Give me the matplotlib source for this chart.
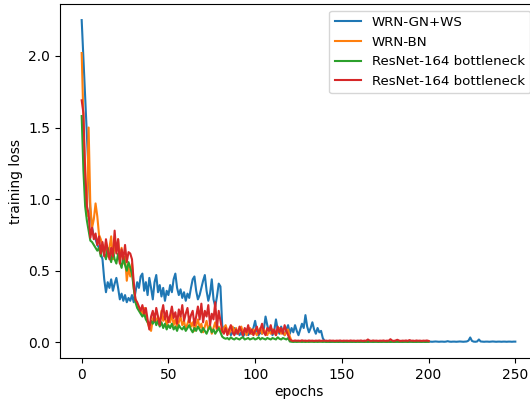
import matplotlib
matplotlib.use("Agg")
import matplotlib.pyplot as plt
import numpy as np

labels = ["WRN-GN+WS", "WRN-BN", "ResNet-164 bottleneck", "ResNet-164 bottleneck"]
colors = ["#1f77b4", "#ff7f0e", "#2ca02c", "#d62728"]

wrn_gn_ws = [
    2.25, 1.98, 1.72, 1.45, 1.18, 0.92, 0.80, 0.74, 0.72, 0.68,
    0.66, 0.62, 0.58, 0.44, 0.35, 0.42, 0.38, 0.44, 0.36, 0.41,
    0.45, 0.38, 0.30, 0.34, 0.29, 0.33, 0.28, 0.31, 0.29, 0.33,
    0.28, 0.35, 0.42, 0.38, 0.46, 0.48, 0.36, 0.42, 0.33, 0.45,
    0.38, 0.30, 0.42, 0.47, 0.35, 0.40, 0.32, 0.38, 0.29, 0.36,
    0.33, 0.40, 0.35, 0.44, 0.48, 0.38, 0.33, 0.37, 0.31, 0.35,
    0.29, 0.34, 0.31, 0.38, 0.44, 0.46, 0.36, 0.30, 0.33, 0.38,
    0.43, 0.47, 0.36, 0.29, 0.34, 0.44, 0.30, 0.25, 0.32, 0.41,
    0.39, 0.12, 0.08, 0.10, 0.06, 0.09, 0.05, 0.07, 0.10, 0.06,
    0.08, 0.05, 0.07, 0.04, 0.06, 0.09, 0.05, 0.07, 0.06, 0.10,
    0.15, 0.08, 0.05, 0.07, 0.06, 0.09, 0.18, 0.12, 0.07, 0.10,
    0.05, 0.08, 0.16, 0.09, 0.06, 0.11, 0.07, 0.05, 0.09, 0.12,
    0.06, 0.10, 0.07, 0.12, 0.08, 0.05, 0.09, 0.13, 0.10, 0.19,
    0.11, 0.07, 0.10, 0.14, 0.09, 0.06, 0.10, 0.07, 0.08, 0.03,
    0.01, 0.006, 0.005, 0.005, 0.004, 0.005, 0.006, 0.005, 0.004, 0.005,
    0.005, 0.004, 0.005, 0.006, 0.005, 0.004, 0.005, 0.005, 0.004, 0.005,
    0.006, 0.005, 0.004, 0.005, 0.005, 0.004, 0.006, 0.005, 0.004, 0.005,
    0.005, 0.004, 0.005, 0.005, 0.006, 0.004, 0.005, 0.005, 0.004, 0.005,
    0.005, 0.004, 0.005, 0.006, 0.005, 0.004, 0.005, 0.005, 0.004, 0.005,
    0.006, 0.005, 0.004, 0.005, 0.005, 0.004, 0.005, 0.006, 0.005, 0.004,
    0.005, 0.005, 0.004, 0.005, 0.006, 0.005, 0.004, 0.005, 0.005, 0.004,
    0.005, 0.008, 0.005, 0.004, 0.005, 0.005, 0.004, 0.005, 0.006, 0.005,
    0.004, 0.005, 0.006, 0.012, 0.034, 0.010, 0.005, 0.004, 0.006, 0.020,
    0.006, 0.005, 0.004, 0.005, 0.005, 0.004, 0.005, 0.006, 0.005, 0.004,
    0.005, 0.005, 0.004, 0.005, 0.005, 0.004, 0.005, 0.005, 0.004, 0.005,
    0.005,
]

wrn_bn = [
    2.02, 1.55, 1.10, 0.88, 1.50, 0.95, 0.80, 0.86, 0.97, 0.88,
    0.75, 0.72, 0.68, 0.62, 0.70, 0.60, 0.66, 0.74, 0.58, 0.68,
    0.63, 0.72, 0.58, 0.66, 0.55, 0.60, 0.43, 0.52, 0.46, 0.55,
    0.38, 0.30, 0.26, 0.24, 0.22, 0.20, 0.24, 0.18, 0.14, 0.10,
    0.08, 0.16, 0.20, 0.13, 0.18, 0.12, 0.22, 0.15, 0.19, 0.11,
    0.17, 0.14, 0.20, 0.12, 0.16, 0.10, 0.14, 0.18, 0.12, 0.15,
    0.09, 0.13, 0.17, 0.11, 0.14, 0.08, 0.12, 0.16, 0.10, 0.13,
    0.07, 0.11, 0.15, 0.09, 0.12, 0.06, 0.10, 0.14, 0.08, 0.11,
    0.09, 0.07, 0.10, 0.12, 0.08, 0.06, 0.09, 0.11, 0.07, 0.10,
    0.06, 0.08, 0.11, 0.07, 0.09, 0.05, 0.08, 0.10, 0.06, 0.09,
    0.07, 0.05, 0.08, 0.10, 0.06, 0.09, 0.07, 0.05, 0.08, 0.06,
    0.09, 0.07, 0.05, 0.08, 0.10, 0.06, 0.08, 0.05, 0.07, 0.09,
    0.04, 0.010, 0.008, 0.009, 0.008, 0.007, 0.008, 0.009, 0.008, 0.007,
    0.008, 0.009, 0.008, 0.007, 0.008, 0.008, 0.009, 0.007, 0.008, 0.008,
    0.009, 0.008, 0.007, 0.008, 0.009, 0.008, 0.007, 0.008, 0.008, 0.009,
    0.008, 0.007, 0.008, 0.009, 0.008, 0.007, 0.008, 0.008, 0.009, 0.008,
    0.007, 0.008, 0.009, 0.008, 0.007, 0.008, 0.008, 0.009, 0.008, 0.007,
    0.008, 0.009, 0.008, 0.007, 0.008, 0.008, 0.009, 0.008, 0.007, 0.008,
    0.009, 0.008, 0.007, 0.008, 0.008, 0.009, 0.008, 0.007, 0.008, 0.009,
    0.008, 0.007, 0.008, 0.008, 0.009, 0.008, 0.007, 0.008, 0.009, 0.008,
    0.008,
]

resnet_a = [
    1.58, 1.20, 0.95, 0.85, 0.78, 0.71, 0.70, 0.68, 0.66, 0.64,
    0.66, 0.60, 0.68, 0.62, 0.58, 0.66, 0.60, 0.56, 0.64, 0.58,
    0.55, 0.62, 0.56, 0.52, 0.60, 0.54, 0.50, 0.56, 0.52, 0.48,
    0.38, 0.28, 0.24, 0.22, 0.20, 0.18, 0.20, 0.16, 0.14, 0.12,
    0.15, 0.13, 0.16, 0.12, 0.15, 0.11, 0.14, 0.10, 0.13, 0.09,
    0.12, 0.10, 0.13, 0.09, 0.11, 0.08, 0.12, 0.10, 0.09, 0.11,
    0.08, 0.10, 0.12, 0.09, 0.07, 0.10, 0.08, 0.11, 0.09, 0.07,
    0.10, 0.08, 0.06, 0.09, 0.11, 0.07, 0.09, 0.06, 0.08, 0.10,
    0.07, 0.04, 0.030, 0.025, 0.030, 0.020, 0.035, 0.025, 0.020, 0.030,
    0.025, 0.020, 0.030, 0.035, 0.020, 0.025, 0.030, 0.020, 0.025, 0.030,
    0.020, 0.025, 0.035, 0.020, 0.030, 0.025, 0.020, 0.030, 0.025, 0.020,
    0.030, 0.025, 0.020, 0.035, 0.025, 0.020, 0.030, 0.025, 0.020, 0.030,
    0.006, 0.004, 0.003, 0.004, 0.003, 0.004, 0.004, 0.003, 0.004, 0.003,
    0.004, 0.003, 0.004, 0.004, 0.003, 0.004, 0.003, 0.004, 0.004, 0.003,
    0.004, 0.003, 0.004, 0.003, 0.004, 0.004, 0.003, 0.004, 0.003, 0.004,
    0.004, 0.003, 0.004, 0.003, 0.004, 0.004, 0.003, 0.004, 0.003, 0.004,
    0.003, 0.004, 0.004, 0.003, 0.004, 0.003, 0.004, 0.004, 0.003, 0.004,
    0.004, 0.003, 0.004, 0.003, 0.004, 0.004, 0.003, 0.004, 0.003, 0.004,
    0.003, 0.004, 0.004, 0.003, 0.004, 0.003, 0.004, 0.004, 0.003, 0.004,
    0.004, 0.003, 0.004, 0.003, 0.004, 0.004, 0.003, 0.004, 0.003, 0.004,
    0.004,
]

resnet_b = [
    1.69, 1.60, 1.20, 0.95, 0.90, 0.73, 0.80, 0.72, 0.76, 0.68,
    0.74, 0.62, 0.70, 0.60, 0.72, 0.64, 0.58, 0.66, 0.60, 0.78,
    0.62, 0.72, 0.55, 0.65, 0.58, 0.68, 0.56, 0.63, 0.62, 0.58,
    0.42, 0.30, 0.28, 0.25, 0.22, 0.26, 0.20, 0.24, 0.16, 0.09,
    0.18, 0.22, 0.15, 0.24, 0.18, 0.12, 0.20, 0.26, 0.16, 0.22,
    0.14, 0.19, 0.25, 0.17, 0.21, 0.13, 0.23, 0.18, 0.26, 0.15,
    0.20, 0.24, 0.14, 0.19, 0.22, 0.12, 0.18, 0.25, 0.16, 0.27,
    0.14, 0.22, 0.18, 0.26, 0.12, 0.20, 0.16, 0.28, 0.10, 0.22,
    0.15, 0.08, 0.06, 0.10, 0.05, 0.09, 0.12, 0.07, 0.05, 0.09,
    0.06, 0.11, 0.08, 0.05, 0.10, 0.07, 0.12, 0.06, 0.09, 0.05,
    0.08, 0.11, 0.06, 0.09, 0.13, 0.07, 0.05, 0.10, 0.08, 0.12,
    0.06, 0.09, 0.05, 0.11, 0.07, 0.10, 0.06, 0.12, 0.08, 0.05,
    0.020, 0.012, 0.010, 0.013, 0.011, 0.012, 0.010, 0.014, 0.011, 0.012,
    0.010, 0.013, 0.011, 0.012, 0.010, 0.012, 0.011, 0.013, 0.010, 0.012,
    0.011, 0.012, 0.010, 0.013, 0.011, 0.012, 0.010, 0.012, 0.011, 0.013,
    0.010, 0.012, 0.011, 0.012, 0.010, 0.013, 0.011, 0.012, 0.010, 0.012,
    0.011, 0.013, 0.010, 0.012, 0.011, 0.020, 0.012, 0.010, 0.013, 0.011,
    0.012, 0.010, 0.012, 0.011, 0.013, 0.010, 0.012, 0.011, 0.022, 0.012,
    0.010, 0.013, 0.018, 0.012, 0.010, 0.012, 0.011, 0.013, 0.010, 0.016,
    0.011, 0.012, 0.010, 0.013, 0.011, 0.012, 0.010, 0.012, 0.011, 0.013,
    0.010,
]

series = [wrn_gn_ws, wrn_bn, resnet_a, resnet_b]

fig = plt.figure(figsize=(5.30, 3.99), dpi=100)
ax = fig.add_axes([60 / 530, 41 / 399, 477 / 530, 354 / 399])
for vals, lab, col in zip(series, labels, colors):
    epochs = np.arange(len(vals))
    ax.plot(epochs, vals, color=col, label=lab, linewidth=1.5)

ax.set_xlabel("epochs", labelpad=2.5)
ax.set_ylabel("training loss")
ax.legend(loc="upper right", fontsize=9.6)
fig.savefig("out.png", dpi=100)
